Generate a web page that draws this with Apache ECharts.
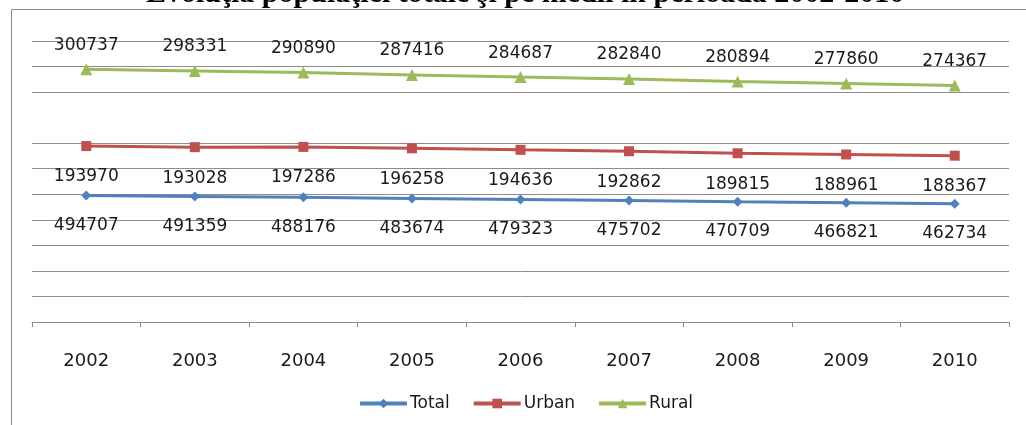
<!DOCTYPE html>
<html>
<head>
<meta charset="utf-8">
<script src="https://cdn.jsdelivr.net/npm/echarts@6/dist/echarts.min.js"></script>
<style>
  html, body { margin: 0; padding: 0; background: #fff; }
  #chart { width: 1026px; height: 425px; }
</style>
</head>
<body>
<div id="chart"></div>
<script>
const years = ['2002', '2003', '2004', '2005', '2006', '2007', '2008', '2009', '2010']
const total = [494707, 491359, 488176, 483674, 479323, 475702, 470709, 466821, 462734]
const urban = [193970, 193028, 197286, 196258, 194636, 192862, 189815, 188961, 188367]
const rural = [300737, 298331, 290890, 287416, 284687, 282840, 280894, 277860, 274367]

// gridline colours, the 800000 line is missing in the original
const gridGray = '#8c8c8c'
const gridColors = []
for (let i = 0; i < 12; i++) gridColors.push(i === 8 ? 'rgba(0,0,0,0)' : gridGray)

const labelStyle = {
  show: true,
  fontFamily: 'DejaVu Sans',
  fontSize: 17,
  lineHeight: 18,
  color: '#1a1a1a'
}

const chart = echarts.init(document.getElementById('chart'))
chart.setOption({
  animation: false,
  backgroundColor: '#fff',
  title: {
    text: 'Evoluţia populaţiei totale şi pe medii în perioada 2002-2010',
    left: 141,
    top: -26,
    textStyle: {
      fontFamily: 'Liberation Serif',
      fontWeight: 'bold',
      fontSize: 30,
      color: '#000'
    }
  },
  graphic: [{
    type: 'rect',
    silent: true,
    shape: { x: 11.5, y: 9.5, width: 1100, height: 500 },
    style: { fill: 'none', stroke: '#8a8a8a', lineWidth: 1 }
  }],
  legend: {
    left: 353,
    top: 390,
    itemWidth: 47,
    itemHeight: 12,
    itemGap: 22,
    lineStyle: { width: 4 },
    textStyle: { fontFamily: 'DejaVu Sans', fontSize: 17, color: '#1a1a1a', padding: [0, 0, 0, -2] },
    data: ['Total', 'Urban', 'Rural']
  },
  grid: { left: 32, right: 17, top: 41, bottom: 103 },
  xAxis: {
    type: 'category',
    data: years,
    axisLine: { lineStyle: { color: gridGray, width: 1 } },
    axisTick: { show: true, length: 5, lineStyle: { color: gridGray, width: 1 } },
    axisLabel: { margin: 30, fontFamily: 'DejaVu Sans', fontSize: 18, color: '#1a1a1a' }
  },
  yAxis: {
    type: 'value',
    min: 0,
    max: 1100000,
    interval: 100000,
    axisLine: { show: false },
    axisTick: { show: false },
    axisLabel: { show: false },
    splitLine: { show: true, lineStyle: { color: gridColors, width: 1 } }
  },
  series: [
    {
      name: 'Total',
      type: 'line',
      stack: 'pop',
      data: total,
      color: '#4f81bd',
      symbol: 'diamond',
      symbolSize: 10,
      lineStyle: { width: 3 },
      label: Object.assign({}, labelStyle, { position: 'bottom', distance: 16 })
    },
    {
      name: 'Urban',
      type: 'line',
      stack: 'pop',
      data: urban,
      color: '#c0504d',
      symbol: 'rect',
      symbolSize: 10,
      lineStyle: { width: 3 },
      label: Object.assign({}, labelStyle, { position: 'bottom', distance: 17 })
    },
    {
      name: 'Rural',
      type: 'line',
      stack: 'pop',
      data: rural,
      color: '#9bbb59',
      symbol: 'triangle',
      symbolSize: 12,
      lineStyle: { width: 3 },
      label: Object.assign({}, labelStyle, { position: 'top', distance: 9 })
    }
  ]
})
</script>
</body>
</html>
